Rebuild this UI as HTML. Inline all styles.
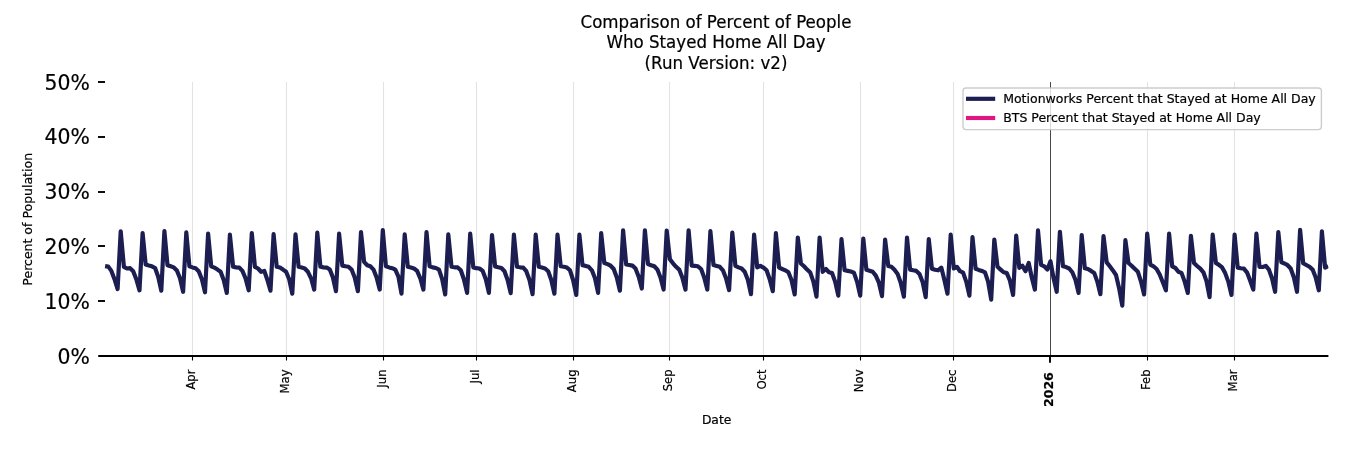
<!DOCTYPE html>
<html><head><meta charset="utf-8"><title>Comparison of Percent of People Who Stayed Home All Day</title>
<style>
html,body{margin:0;padding:0;background:#fff;}
body{width:1350px;height:450px;overflow:hidden;}
svg{display:block;font-family:"DejaVu Sans","Liberation Sans",sans-serif;fill:#000;}
text{stroke:#000;stroke-width:0.2px;}
</style></head><body>
<svg width="1350" height="450" viewBox="0 0 1350 450">
<rect width="1350" height="450" fill="#fff"/>
<defs><clipPath id="ax"><rect x="98.2" y="82" width="1230.2" height="274"/></clipPath></defs>
<g font-size="16.67" text-anchor="middle">
<text transform="translate(716,27.7) scale(1,1.08)">Comparison of Percent of People</text>
<text transform="translate(716,47.8) scale(1,1.08)">Who Stayed Home All Day</text>
<text transform="translate(716,68.8) scale(1,1.08)">(Run Version: v2)</text>
</g>
<g stroke="#e3e3e3" stroke-width="1.1"><line x1="192.5" x2="192.5" y1="82" y2="355.6"/><line x1="286.5" x2="286.5" y1="82" y2="355.6"/><line x1="383.5" x2="383.5" y1="82" y2="355.6"/><line x1="476.5" x2="476.5" y1="82" y2="355.6"/><line x1="573.5" x2="573.5" y1="82" y2="355.6"/><line x1="669.5" x2="669.5" y1="82" y2="355.6"/><line x1="763.5" x2="763.5" y1="82" y2="355.6"/><line x1="860.5" x2="860.5" y1="82" y2="355.6"/><line x1="953.5" x2="953.5" y1="82" y2="355.6"/><line x1="1147.5" x2="1147.5" y1="82" y2="355.6"/><line x1="1234.5" x2="1234.5" y1="82" y2="355.6"/></g>
<line x1="1050.5" x2="1050.5" y1="82" y2="355.6" stroke="#000" stroke-width="0.72"/>
<path d="M105.1,266.1 L108.3,266.6 L111.4,270.9 L114.5,279.2 L117.6,289.0 L120.7,231.3 L123.9,266.8 L127.0,268.5 L130.1,268.2 L133.2,271.2 L136.3,279.2 L139.5,290.3 L142.6,233.0 L145.7,264.6 L148.8,265.5 L151.9,266.3 L155.1,268.0 L158.2,276.7 L161.3,290.7 L164.4,231.0 L167.5,265.2 L170.7,266.3 L173.8,267.4 L176.9,270.4 L180.0,278.3 L183.1,291.8 L186.3,232.4 L189.4,266.3 L192.5,267.4 L195.6,268.2 L198.7,271.2 L201.9,279.2 L205.0,292.3 L208.1,233.5 L211.2,266.3 L214.3,267.6 L217.5,269.6 L220.6,271.8 L223.7,280.0 L226.8,292.9 L229.9,234.7 L233.1,266.8 L236.2,267.4 L239.3,267.6 L242.4,270.9 L245.5,278.3 L248.7,290.3 L251.8,233.0 L254.9,266.8 L258.0,268.5 L261.1,271.8 L264.3,270.9 L267.4,280.0 L270.5,290.7 L273.6,234.1 L276.7,266.8 L279.9,267.6 L283.0,269.6 L286.1,271.8 L289.2,279.2 L292.3,293.7 L295.5,234.3 L298.6,266.8 L301.7,267.6 L304.8,268.5 L307.9,271.8 L311.1,278.3 L314.2,289.6 L317.3,232.6 L320.4,266.8 L323.5,267.4 L326.7,267.6 L329.8,269.6 L332.9,277.5 L336.0,291.2 L339.1,233.7 L342.3,265.6 L345.4,266.3 L348.5,266.8 L351.6,269.6 L354.7,277.5 L357.9,291.2 L361.0,232.0 L364.1,261.9 L367.2,265.2 L370.3,266.3 L373.5,269.6 L376.6,277.5 L379.7,289.6 L382.8,230.1 L385.9,266.3 L389.1,267.4 L392.2,268.2 L395.3,269.6 L398.4,276.7 L401.5,293.7 L404.7,234.4 L407.8,266.8 L410.9,267.6 L414.0,268.5 L417.1,270.9 L420.3,278.3 L423.4,289.6 L426.5,232.0 L429.6,266.3 L432.7,267.4 L435.9,268.0 L439.0,269.6 L442.1,278.9 L445.2,294.5 L448.3,234.4 L451.5,266.8 L454.6,267.3 L457.7,267.4 L460.8,270.3 L463.9,279.2 L467.1,292.9 L470.2,233.6 L473.3,267.4 L476.4,268.2 L479.5,268.5 L482.7,270.9 L485.8,279.2 L488.9,292.9 L492.0,235.0 L495.1,266.4 L498.3,267.3 L501.4,268.0 L504.5,271.2 L507.6,280.0 L510.7,293.1 L513.9,234.7 L517.0,266.8 L520.1,267.3 L523.2,267.6 L526.3,271.2 L529.5,280.0 L532.6,294.2 L535.7,234.7 L538.8,266.8 L541.9,267.6 L545.1,268.5 L548.2,271.2 L551.3,280.0 L554.4,293.7 L557.5,234.7 L560.7,266.3 L563.8,266.8 L566.9,267.6 L570.0,270.3 L573.1,280.0 L576.3,295.0 L579.4,234.7 L582.5,265.2 L585.6,265.9 L588.7,266.8 L591.9,270.3 L595.0,278.3 L598.1,292.9 L601.2,233.1 L604.3,263.0 L607.5,264.1 L610.6,265.7 L613.7,269.0 L616.8,277.5 L619.9,290.7 L623.1,230.3 L626.2,264.5 L629.3,265.0 L632.4,265.6 L635.5,268.5 L638.7,276.7 L641.8,288.5 L644.9,230.3 L648.0,264.1 L651.1,265.3 L654.3,266.3 L657.4,269.6 L660.5,277.5 L663.6,289.6 L666.7,230.6 L669.9,259.2 L673.0,263.3 L676.1,266.8 L679.2,269.6 L682.3,277.5 L685.5,289.6 L688.6,230.3 L691.7,265.6 L694.8,265.9 L697.9,266.3 L701.1,269.0 L704.2,277.5 L707.3,289.6 L710.4,231.1 L713.5,265.0 L716.7,265.9 L719.8,266.8 L722.9,270.3 L726.0,278.3 L729.1,290.1 L732.3,232.5 L735.4,265.9 L738.5,267.4 L741.6,268.5 L744.7,271.8 L747.9,280.0 L751.0,294.2 L754.1,234.7 L757.2,267.3 L760.3,265.9 L763.5,267.6 L766.6,270.3 L769.7,279.2 L772.8,291.2 L775.9,233.1 L779.1,267.6 L782.2,269.0 L785.3,270.3 L788.4,272.3 L791.5,280.0 L794.7,294.5 L797.8,237.5 L800.9,263.5 L804.0,266.3 L807.1,269.6 L810.3,272.6 L813.4,281.6 L816.5,296.7 L819.6,237.5 L822.7,271.8 L825.9,269.0 L829.0,272.3 L832.1,273.1 L835.2,281.9 L838.3,295.6 L841.5,239.1 L844.6,270.3 L847.7,270.9 L850.8,271.5 L853.9,272.6 L857.1,281.9 L860.2,295.6 L863.3,238.5 L866.4,269.8 L869.5,270.7 L872.7,271.8 L875.8,275.6 L878.9,282.7 L882.0,296.1 L885.1,239.6 L888.3,266.0 L891.4,266.8 L894.5,269.8 L897.6,273.9 L900.7,282.7 L903.9,296.7 L907.0,237.5 L910.1,269.6 L913.2,270.3 L916.3,270.9 L919.5,273.9 L922.6,281.9 L925.7,297.2 L928.8,239.1 L931.9,268.7 L935.1,269.8 L938.2,270.3 L941.3,267.6 L944.4,280.0 L947.5,293.7 L950.7,234.7 L953.8,268.5 L956.9,266.8 L960.0,271.2 L963.1,272.6 L966.3,281.9 L969.4,295.6 L972.5,237.2 L975.6,268.7 L978.7,269.9 L981.9,270.9 L985.0,272.3 L988.1,281.6 L991.2,299.7 L994.3,239.6 L997.5,266.8 L1000.6,269.6 L1003.7,272.3 L1006.8,273.1 L1009.9,280.5 L1013.1,295.0 L1016.2,235.6 L1019.3,267.9 L1022.4,265.7 L1025.5,271.2 L1028.7,263.0 L1031.8,277.8 L1034.9,289.6 L1038.0,230.4 L1041.1,264.9 L1044.3,266.3 L1047.4,269.6 L1050.5,261.3 L1053.6,278.3 L1056.7,291.8 L1059.9,231.8 L1063.0,266.3 L1066.1,267.1 L1069.2,268.5 L1072.3,272.3 L1075.5,280.0 L1078.6,292.9 L1081.7,235.0 L1084.8,268.2 L1087.9,269.0 L1091.1,270.9 L1094.2,272.9 L1097.3,281.6 L1100.4,294.2 L1103.5,236.1 L1106.7,262.4 L1109.8,266.3 L1112.9,270.4 L1116.0,275.0 L1119.1,288.2 L1122.3,305.7 L1125.4,240.2 L1128.5,263.0 L1131.6,265.7 L1134.7,268.7 L1137.9,271.8 L1141.0,281.6 L1144.1,294.5 L1147.2,233.6 L1150.3,264.6 L1153.5,266.3 L1156.6,269.0 L1159.7,274.5 L1162.8,282.2 L1165.9,290.3 L1169.1,233.6 L1172.2,266.3 L1175.3,267.9 L1178.4,271.8 L1181.5,272.9 L1184.7,281.6 L1187.8,292.9 L1190.9,235.8 L1194.0,263.0 L1197.1,266.0 L1200.3,268.7 L1203.4,272.3 L1206.5,281.1 L1209.6,297.2 L1212.7,234.7 L1215.9,263.0 L1219.0,264.9 L1222.1,267.4 L1225.2,273.1 L1228.3,281.6 L1231.5,295.0 L1234.6,234.7 L1237.7,267.6 L1240.8,268.2 L1243.9,268.6 L1247.1,272.6 L1250.2,280.8 L1253.3,289.6 L1256.4,233.6 L1259.5,266.8 L1262.7,267.0 L1265.8,265.9 L1268.9,269.6 L1272.0,278.3 L1275.1,291.8 L1278.3,232.0 L1281.4,262.4 L1284.5,263.5 L1287.6,265.2 L1290.7,268.5 L1293.9,277.5 L1297.0,291.8 L1300.1,229.8 L1303.2,263.2 L1306.3,265.0 L1309.5,266.8 L1312.6,269.6 L1315.7,277.5 L1318.8,290.3 L1321.9,231.4 L1325.1,267.6 L1328.2,266.0" fill="none" stroke="#1c1d50" stroke-width="4.17" stroke-linejoin="round" stroke-linecap="butt" clip-path="url(#ax)"/>
<line x1="98.2" x2="1328.4" y1="356" y2="356" stroke="#000" stroke-width="2"/>
<g stroke="#000" stroke-width="1.1"><line x1="192.5" x2="192.5" y1="356" y2="360.5"/><line x1="286.5" x2="286.5" y1="356" y2="360.5"/><line x1="383.5" x2="383.5" y1="356" y2="360.5"/><line x1="476.5" x2="476.5" y1="356" y2="360.5"/><line x1="573.5" x2="573.5" y1="356" y2="360.5"/><line x1="669.5" x2="669.5" y1="356" y2="360.5"/><line x1="763.5" x2="763.5" y1="356" y2="360.5"/><line x1="860.5" x2="860.5" y1="356" y2="360.5"/><line x1="953.5" x2="953.5" y1="356" y2="360.5"/><line x1="1147.5" x2="1147.5" y1="356" y2="360.5"/><line x1="1234.5" x2="1234.5" y1="356" y2="360.5"/></g><g stroke="#000" stroke-width="1.9"><line x1="98" x2="105" y1="301" y2="301"/><line x1="98" x2="105" y1="246" y2="246"/><line x1="98" x2="105" y1="192" y2="192"/><line x1="98" x2="105" y1="137" y2="137"/><line x1="98" x2="105" y1="82" y2="82"/></g>
<line x1="1050" x2="1050" y1="356" y2="362.8" stroke="#000" stroke-width="1.9"/>
<g font-size="20.4"><text x="89.9" y="363.9" text-anchor="end">0%</text><text x="89.9" y="308.7" text-anchor="end">10%</text><text x="89.9" y="253.9" text-anchor="end">20%</text><text x="89.9" y="199.1" text-anchor="end">30%</text><text x="89.9" y="144.3" text-anchor="end">40%</text><text x="89.9" y="89.5" text-anchor="end">50%</text></g>
<g font-size="11.6"><text transform="translate(195.1,369.5) rotate(-90)" text-anchor="end">Apr</text><text transform="translate(289.1,369.5) rotate(-90)" text-anchor="end">May</text><text transform="translate(386.1,369.5) rotate(-90)" text-anchor="end">Jun</text><text transform="translate(479.1,369.5) rotate(-90)" text-anchor="end">Jul</text><text transform="translate(576.1,369.5) rotate(-90)" text-anchor="end">Aug</text><text transform="translate(672.1,369.5) rotate(-90)" text-anchor="end">Sep</text><text transform="translate(766.1,369.5) rotate(-90)" text-anchor="end">Oct</text><text transform="translate(863.1,369.5) rotate(-90)" text-anchor="end">Nov</text><text transform="translate(956.1,369.5) rotate(-90)" text-anchor="end">Dec</text><text transform="translate(1150.1,369.5) rotate(-90)" text-anchor="end">Feb</text><text transform="translate(1237.1,369.5) rotate(-90)" text-anchor="end">Mar</text></g>
<text transform="translate(1053.0,372.2) rotate(-90)" text-anchor="end" font-size="12.5" font-weight="bold">2026</text>
<text transform="translate(32.2,219.3) rotate(-90)" text-anchor="middle" font-size="12.5">Percent of Population</text>
<text x="716.6" y="423.8" text-anchor="middle" font-size="12.3">Date</text>
<rect x="963" y="88" width="358.4" height="41.6" rx="3" fill="#fff" fill-opacity="0.8" stroke="#c8c8c8" stroke-opacity="0.9" stroke-width="1.39"/>
<line x1="968.1" x2="993.1" y1="98.8" y2="98.8" stroke="#1c1d50" stroke-width="4.17" stroke-linecap="square"/>
<line x1="968.1" x2="993.1" y1="118" y2="118" stroke="#de1680" stroke-width="4.17" stroke-linecap="square"/>
<g font-size="12.5">
<text x="1003.2" y="103.2">Motionworks Percent that Stayed at Home All Day</text>
<text x="1003.2" y="122.3">BTS Percent that Stayed at Home All Day</text>
</g>
</svg>
</body></html>
